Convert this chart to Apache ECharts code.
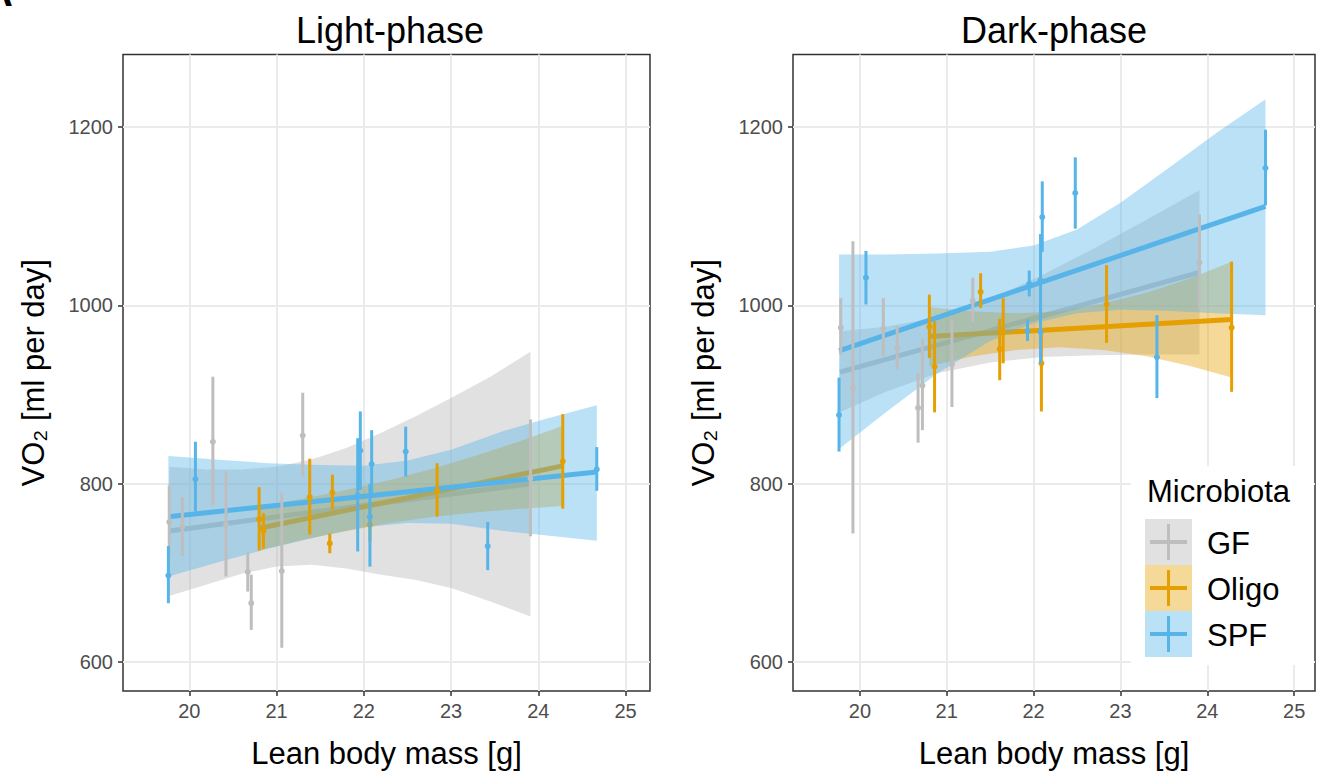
<!DOCTYPE html>
<html>
<head>
<meta charset="utf-8">
<script src="https://cdn.jsdelivr.net/npm/echarts@6/dist/echarts.min.js"></script>
<style>
  html, body { margin: 0; padding: 0; background: #fff; }
  #main { width: 1317px; height: 775px; }
</style>
</head>
<body>
<div id="main"></div>
<script>
// ---- data ----
var groups = ['GF', 'Oligo', 'SPF'];
var xTicks = [20, 21, 22, 23, 24, 25];
var yTicks = [600, 800, 1000, 1200];

// Light-phase: per animal lean mass, VO2 and error bar ends
var lightGF_x  = [19.77, 19.92, 20.27, 20.42, 20.67, 20.71, 21.06, 21.30, 23.91];
var lightGF_y  = [757, 752, 847, 754, 701, 666, 702, 854, 806];
var lightGF_lo = [718, 719, 776, 696, 679, 636, 616, 808, 741];
var lightGF_hi = [798, 785, 920, 814, 723, 698, 790, 902, 872];

var lightOligo_x  = [20.80, 20.85, 21.38, 21.61, 21.64, 22.07, 22.84, 24.28];
var lightOligo_y  = [760, 747, 785, 733, 790, 754, 792, 825];
var lightOligo_lo = [725, 727, 743, 722, 771, 735, 763, 772];
var lightOligo_hi = [796, 767, 828, 744, 810, 775, 823, 878];

var lightSPF_x  = [19.76, 20.07, 21.93, 21.96, 22.07, 22.09, 22.48, 23.42, 24.67];
var lightSPF_y  = [697, 805, 787, 837, 763, 822, 836, 730, 816];
var lightSPF_lo = [666, 769, 724, 793, 707, 785, 808, 703, 792];
var lightSPF_hi = [730, 847, 851, 881, 800, 860, 864, 757, 841];

// Dark-phase
var darkGF_x  = [19.78, 19.92, 20.27, 20.43, 20.67, 20.72, 21.06, 21.30, 23.91];
var darkGF_y  = [975, 907, 974, 952, 885, 910, 934, 1005, 1048];
var darkGF_lo = [945, 744, 943, 928, 846, 860, 886, 981, 996];
var darkGF_hi = [1008, 1072, 1008, 977, 924, 962, 984, 1031, 1102];

var darkOligo_x  = [20.80, 20.86, 21.39, 21.61, 21.65, 22.09, 22.84, 24.28];
var darkOligo_y  = [976, 931, 1015, 951, 970, 935, 1001, 975];
var darkOligo_lo = [941, 880, 997, 916, 935, 881, 958, 903];
var darkOligo_hi = [1012, 982, 1036, 985, 1008, 971, 1045, 1049];

var darkSPF_x  = [19.76, 20.07, 21.93, 21.95, 22.10, 22.08, 22.08, 22.48, 23.42, 24.67];
var darkSPF_y  = [877, 1031, 971, 1024, 1099, 1028, 970, 1126, 942, 1154];
var darkSPF_lo = [836, 1001, 960, 1010, 1060, 977, 935, 1086, 896, 1112];
var darkSPF_hi = [919, 1061, 984, 1039, 1139, 1080, 1005, 1166, 989, 1197];

// fitted lines (end points)
var lightGF_fitX = [19.77, 23.91],    lightGF_fitY = [747, 800];
var lightOligo_fitX = [20.80, 24.28], lightOligo_fitY = [750, 820];
var lightSPF_fitX = [19.76, 24.67],   lightSPF_fitY = [763, 813];
var darkGF_fitX = [19.77, 23.91],     darkGF_fitY = [925, 1037];
var darkOligo_fitX = [20.80, 24.28],  darkOligo_fitY = [965, 984];
var darkSPF_fitX = [19.76, 24.67],    darkSPF_fitY = [949, 1111];

// confidence bands (lower / upper edge read at a few x)
var lightGF_bandX  = [19.77, 20.2, 20.6, 21.0, 21.4, 21.8, 22.2, 22.6, 23.0, 23.45, 23.91];
var lightGF_bandLo = [674, 687, 699, 707, 709, 705, 698, 692, 683, 668, 651];
var lightGF_bandHi = [819, 816, 816, 819, 827, 840, 857, 876, 896, 920, 948];
var lightOligo_bandX  = [20.80, 21.3, 21.8, 22.3, 22.8, 23.3, 23.8, 24.28];
var lightOligo_bandLo = [725, 737, 747, 756, 763, 768, 772, 775];
var lightOligo_bandHi = [775, 783, 793, 804, 817, 832, 848, 865];
var lightSPF_bandX  = [19.76, 20.3, 20.9, 21.5, 22.0, 22.5, 23.0, 23.6, 24.1, 24.67];
var lightSPF_bandLo = [696, 711, 727, 741, 751, 756, 755, 747, 742, 736];
var lightSPF_bandHi = [831, 827, 823, 821, 820, 826, 838, 859, 873, 888];

var darkGF_bandX  = [19.77, 20.3, 20.9, 21.5, 22.1, 22.7, 23.3, 23.91];
var darkGF_bandLo = [880, 903, 924, 936, 942, 944, 945, 945];
var darkGF_bandHi = [971, 976, 987, 1007, 1034, 1064, 1096, 1129];
var darkOligo_bandX  = [20.80, 21.3, 21.8, 22.3, 22.8, 23.3, 23.8, 24.28];
var darkOligo_bandLo = [932, 943, 950, 953, 950, 943, 932, 919];
var darkOligo_bandHi = [998, 993, 991, 993, 1002, 1014, 1030, 1049];
var darkSPF_bandX  = [19.76, 20.3, 20.9, 21.5, 22.0, 22.5, 23.0, 23.5, 24.1, 24.67];
var darkSPF_bandLo = [839, 880, 924, 960, 980, 991, 995, 994, 991, 989];
var darkSPF_bandHi = [1057, 1057, 1058, 1060, 1067, 1085, 1115, 1150, 1193, 1231];

// ---- styling ----
var lineColors = ['#BEBEBE', '#E69F00', '#56B4E9'];
var bandColors = ['rgba(179,179,179,0.4)', 'rgba(230,159,0,0.4)', 'rgba(86,180,233,0.4)'];
var FONT = 'Liberation Sans, Arial, Helvetica, sans-serif';

var panels = [
  {
    gf: [lightGF_x, lightGF_y, lightGF_lo, lightGF_hi],
    oligo: [lightOligo_x, lightOligo_y, lightOligo_lo, lightOligo_hi],
    spf: [lightSPF_x, lightSPF_y, lightSPF_lo, lightSPF_hi],
    fits: [[lightGF_fitX, lightGF_fitY], [lightOligo_fitX, lightOligo_fitY], [lightSPF_fitX, lightSPF_fitY]],
    bands: [[lightGF_bandX, lightGF_bandLo, lightGF_bandHi], [lightOligo_bandX, lightOligo_bandLo, lightOligo_bandHi], [lightSPF_bandX, lightSPF_bandLo, lightSPF_bandHi]]
  },
  {
    gf: [darkGF_x, darkGF_y, darkGF_lo, darkGF_hi],
    oligo: [darkOligo_x, darkOligo_y, darkOligo_lo, darkOligo_hi],
    spf: [darkSPF_x, darkSPF_y, darkSPF_lo, darkSPF_hi],
    fits: [[darkGF_fitX, darkGF_fitY], [darkOligo_fitX, darkOligo_fitY], [darkSPF_fitX, darkSPF_fitY]],
    bands: [[darkGF_bandX, darkGF_bandLo, darkGF_bandHi], [darkOligo_bandX, darkOligo_bandLo, darkOligo_bandHi], [darkSPF_bandX, darkSPF_bandLo, darkSPF_bandHi]]
  }
];

// band + fitted line of one group, drawn together so later groups cover them
function smoothSeries(p, g, band, fit) {
  var bx = band[0], lo = band[1], hi = band[2];
  return {
    type: 'custom', name: groups[g], xAxisIndex: p, yAxisIndex: p,
    silent: true, z: 2,
    data: bx.map(function (x, i) { return [x, lo[i], hi[i]]; }),
    encode: { x: 0, y: [1, 2] },
    renderItem: function (params, api) {
      if (params.dataIndex !== 0) return null;
      var pts = [];
      for (var i = 0; i < bx.length; i++) pts.push(api.coord([bx[i], hi[i]]));
      for (var j = bx.length - 1; j >= 0; j--) pts.push(api.coord([bx[j], lo[j]]));
      var line = fit[0].map(function (x, k) { return api.coord([x, fit[1][k]]); });
      return {
        type: 'group',
        children: [
          { type: 'polygon', shape: { points: pts }, style: { fill: bandColors[g] } },
          { type: 'polyline', shape: { points: line }, style: { stroke: lineColors[g], lineWidth: 5, fill: null } }
        ]
      };
    }
  };
}

function errSeries(p, g, d) {
  var col = lineColors[g];
  return {
    type: 'custom', name: groups[g], xAxisIndex: p, yAxisIndex: p, z: 2,
    data: d[0].map(function (x, i) { return [x, d[1][i], d[2][i], d[3][i]]; }),
    encode: { x: 0, y: [1, 2, 3] },
    renderItem: function (params, api) {
      var x = api.value(0);
      var c = api.coord([x, api.value(1)]);
      var a = api.coord([x, api.value(2)]);
      var b = api.coord([x, api.value(3)]);
      return {
        type: 'group',
        children: [
          { type: 'line', shape: { x1: a[0], y1: a[1], x2: b[0], y2: b[1] }, style: { stroke: col, lineWidth: 3 } },
          { type: 'circle', shape: { cx: c[0], cy: c[1], r: 3 }, style: { fill: col } }
        ]
      };
    }
  };
}

var series = [];
panels.forEach(function (pn, p) {
  for (var g = 0; g < 3; g++) {
    series.push(smoothSeries(p, g, pn.bands[g], pn.fits[g]));
  }
  series.push(errSeries(p, 0, pn.gf));
  series.push(errSeries(p, 1, pn.oligo));
  series.push(errSeries(p, 2, pn.spf));
});

function plain(v) { return String(v); }

function xAxisOf(idx, min, max) {
  return {
    type: 'value', gridIndex: idx, min: min, max: max,
    name: 'Lean body mass [g]', nameLocation: 'middle', nameGap: 47,
    nameTextStyle: { fontSize: 31, color: '#000', fontFamily: FONT },
    axisLine: { show: false },
    axisTick: { show: true, length: 5, lineStyle: { color: '#333', width: 1.5 }, customValues: xTicks },
    axisLabel: { color: '#4d4d4d', fontSize: 20, margin: 10, fontFamily: FONT, customValues: xTicks, formatter: plain },
    splitLine: { show: true, lineStyle: { color: '#ebebeb', width: 2 } }
  };
}
function yAxisOf(idx) {
  return {
    type: 'value', gridIndex: idx, min: 567.5, max: 1281.3,
    name: 'VO\u2082 [ml per day]', nameLocation: 'middle', nameGap: 74,
    nameTextStyle: { fontSize: 31, color: '#000', fontFamily: FONT },
    axisLine: { show: false },
    axisTick: { show: true, length: 5, lineStyle: { color: '#333', width: 1.5 }, customValues: yTicks },
    axisLabel: { color: '#4d4d4d', fontSize: 20, margin: 10, fontFamily: FONT, customValues: yTicks, formatter: plain },
    splitLine: { show: true, lineStyle: { color: '#ebebeb', width: 2 } }
  };
}

function legendGraphic() {
  var els = [
    { type: 'rect', shape: { x: 1131, y: 466, width: 183, height: 199 }, style: { fill: '#fff' }, z: 100 },
    { type: 'text', x: 1147, y: 491, z: 101,
      style: { text: 'Microbiota', font: '31px ' + FONT, fill: '#000', textVerticalAlign: 'middle', verticalAlign: 'middle' } }
  ];
  for (var i = 0; i < 3; i++) {
    var y0 = 519 + i * 46;
    els.push({ type: 'rect', shape: { x: 1145, y: y0, width: 47, height: 46 }, style: { fill: bandColors[i] }, z: 101 });
    els.push({ type: 'line', shape: { x1: 1150, y1: y0 + 23, x2: 1187, y2: y0 + 23 }, style: { stroke: lineColors[i], lineWidth: 4 }, z: 102 });
    els.push({ type: 'line', shape: { x1: 1168.5, y1: y0 + 5, x2: 1168.5, y2: y0 + 41 }, style: { stroke: lineColors[i], lineWidth: 3 }, z: 102 });
    els.push({ type: 'text', x: 1207, y: y0 + 24, z: 101,
      style: { text: groups[i], font: '31px ' + FONT, fill: '#000', textVerticalAlign: 'middle', verticalAlign: 'middle' } });
  }
  return els;
}

var option = {
  backgroundColor: '#fff',
  animation: false,
  textStyle: { fontFamily: FONT },
  grid: [
    { left: 123, top: 54.5, width: 527, height: 636.5, show: true, borderColor: '#333', borderWidth: 1.5, containLabel: false },
    { left: 793, top: 54.5, width: 522, height: 636.5, show: true, borderColor: '#333', borderWidth: 1.5, containLabel: false }
  ],
  xAxis: [xAxisOf(0, 19.24, 25.28), xAxisOf(1, 19.23, 25.24)],
  yAxis: [yAxisOf(0), yAxisOf(1)],
  series: series,
  graphic: [
    { type: 'text', x: 390, y: 30, style: { text: 'Light-phase', font: '36px ' + FONT, fill: '#000', textAlign: 'center', align: 'center', textVerticalAlign: 'middle', verticalAlign: 'middle' } },
    { type: 'text', x: 1054, y: 30, style: { text: 'Dark-phase', font: '36px ' + FONT, fill: '#000', textAlign: 'center', align: 'center', textVerticalAlign: 'middle', verticalAlign: 'middle' } },
    { type: 'text', x: -16, y: 12, style: { text: 'A', font: 'bold 40px ' + FONT, fill: '#000', textVerticalAlign: 'bottom', verticalAlign: 'bottom' } }
  ].concat(legendGraphic())
};

var chart = echarts.init(document.getElementById('main'), null, { renderer: 'svg' });
chart.setOption(option);
window.addEventListener('resize', function () { chart.resize(); });
</script>
</body>
</html>
